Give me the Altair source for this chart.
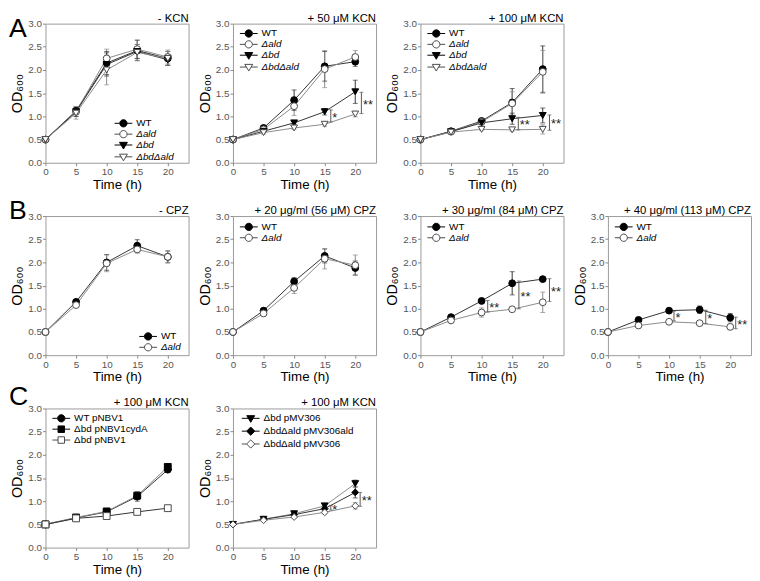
import altair as alt
import pandas as pd

TIME = [0, 5, 10, 15, 20]
X_TICKS = [0, 5, 10, 15, 20]
Y_TICKS = [0.0, 0.5, 1.0, 1.5, 2.0, 2.5, 3.0]

# ---------------- Row A: KCN ----------------
A1_TITLE = "- KCN"
A1_WT = [0.50, 1.12, 2.15, 2.42, 2.25]
A1_WT_ERR = [0.02, 0.08, 0.25, 0.22, 0.15]
A1_ALD = [0.50, 1.10, 2.25, 2.45, 2.28]
A1_ALD_ERR = [0.02, 0.10, 0.20, 0.20, 0.15]
A1_BD = [0.50, 1.10, 2.12, 2.40, 2.22]
A1_BD_ERR = [0.02, 0.10, 0.25, 0.15, 0.12]
A1_BDALD = [0.50, 1.07, 2.00, 2.38, 2.25]
A1_BDALD_ERR = [0.02, 0.13, 0.32, 0.17, 0.15]

A2_TITLE = "+ 50 μM KCN"
A2_WT = [0.50, 0.75, 1.35, 2.08, 2.18]
A2_WT_ERR = [0.02, 0.05, 0.22, 0.32, 0.10]
A2_ALD = [0.50, 0.72, 1.22, 2.02, 2.28]
A2_ALD_ERR = [0.02, 0.04, 0.20, 0.40, 0.14]
A2_BD = [0.50, 0.68, 0.86, 1.10, 1.53]
A2_BD_ERR = [0.02, 0.03, 0.03, 0.07, 0.25]
A2_BDALD = [0.50, 0.65, 0.75, 0.83, 1.05]
A2_BDALD_ERR = [0.02, 0.03, 0.03, 0.04, 0.06]
A2_SIG_X = [16.0, 21.0]
A2_SIG_LOW = [0.88, 1.06]
A2_SIG_HIGH = [1.14, 1.52]
A2_SIG_TEXT = ["*", "**"]

A3_TITLE = "+ 100 μM KCN"
A3_WT = [0.50, 0.68, 0.90, 1.30, 2.02]
A3_WT_ERR = [0.02, 0.02, 0.05, 0.30, 0.50]
A3_ALD = [0.50, 0.67, 0.88, 1.28, 1.96]
A3_ALD_ERR = [0.02, 0.02, 0.04, 0.25, 0.46]
A3_BD = [0.50, 0.67, 0.86, 0.95, 1.02]
A3_BD_ERR = [0.02, 0.02, 0.03, 0.12, 0.16]
A3_BDALD = [0.50, 0.66, 0.72, 0.71, 0.72]
A3_BDALD_ERR = [0.02, 0.02, 0.02, 0.03, 0.10]
A3_SIG_X = [16.0, 21.1]
A3_SIG_LOW = [0.71, 0.70]
A3_SIG_HIGH = [0.98, 1.03]
A3_SIG_TEXT = ["**", "**"]

# ---------------- Row B: CPZ ----------------
B1_TITLE = "- CPZ"
B1_WT = [0.50, 1.15, 2.00, 2.36, 2.12]
B1_WT_ERR = [0.02, 0.05, 0.17, 0.13, 0.13]
B1_ALD = [0.50, 1.08, 1.98, 2.28, 2.12]
B1_ALD_ERR = [0.02, 0.04, 0.18, 0.08, 0.12]

B2_TITLE = "+ 20 μg/ml (56 μM)  CPZ"
B2_WT = [0.50, 0.96, 1.59, 2.14, 1.88]
B2_WT_ERR = [0.02, 0.04, 0.08, 0.15, 0.15]
B2_ALD = [0.50, 0.90, 1.45, 2.08, 1.94]
B2_ALD_ERR = [0.02, 0.03, 0.12, 0.22, 0.22]

B3_TITLE = "+ 30 μg/ml (84 μM) CPZ"
B3_WT = [0.50, 0.82, 1.17, 1.55, 1.64]
B3_WT_ERR = [0.02, 0.03, 0.03, 0.25, 0.03]
B3_ALD = [0.50, 0.75, 0.92, 0.99, 1.14]
B3_ALD_ERR = [0.02, 0.03, 0.10, 0.05, 0.22]
B3_SIG_X = [11.0, 16.1, 21.1]
B3_SIG_LOW = [0.93, 1.00, 1.16]
B3_SIG_HIGH = [1.18, 1.60, 1.65]
B3_SIG_TEXT = ["**", "**", "**"]

B4_TITLE = "+ 40 μg/ml (113 μM) CPZ"
B4_WT = [0.50, 0.76, 0.96, 0.98, 0.81]
B4_WT_ERR = [0.02, 0.03, 0.03, 0.08, 0.09]
B4_ALD = [0.50, 0.64, 0.72, 0.69, 0.61]
B4_ALD_ERR = [0.02, 0.02, 0.03, 0.03, 0.06]
B4_SIG_X = [10.8, 16.0, 20.9]
B4_SIG_LOW = [0.74, 0.68, 0.57]
B4_SIG_HIGH = [0.95, 0.97, 0.82]
B4_SIG_TEXT = ["*", "*", "**"]

# ---------------- Row C: complementation, 100 uM KCN ----------------
C1_TITLE = "+ 100 μM KCN"
C1_WT = [0.50, 0.64, 0.77, 1.10, 1.68]
C1_WT_ERR = [0.02, 0.03, 0.03, 0.10, 0.05]
C1_CYDA = [0.50, 0.65, 0.78, 1.12, 1.74]
C1_CYDA_ERR = [0.02, 0.03, 0.03, 0.08, 0.06]
C1_EMPTY = [0.50, 0.63, 0.68, 0.77, 0.85]
C1_EMPTY_ERR = [0.02, 0.02, 0.02, 0.02, 0.02]

C2_TITLE = "+ 100 μM KCN"
C2_BD = [0.50, 0.61, 0.73, 0.90, 1.38]
C2_BD_ERR = [0.02, 0.02, 0.03, 0.04, 0.08]
C2_ALDC = [0.50, 0.61, 0.71, 0.84, 1.19]
C2_ALDC_ERR = [0.02, 0.02, 0.02, 0.05, 0.12]
C2_EMPTY = [0.50, 0.59, 0.66, 0.76, 0.90]
C2_EMPTY_ERR = [0.02, 0.02, 0.02, 0.03, 0.07]
C2_SIG_X = [16.0, 20.8]
C2_SIG_LOW = [0.81, 0.89]
C2_SIG_HIGH = [0.91, 1.19]
C2_SIG_TEXT = ["*", "**"]

# ---------------- styling ----------------
W, H = 145, 141
FONT = "Liberation Sans"
DARK, LIGHT = "#333333", "#8a8a8a"
OPEN_STROKE = "#4a4a4a"

# legend symbols (line + marker), unit = sqrt(81)/2 = 4.5 px
LEG_CIRCLE = "M-2,0H-0.82M0.82,0H2M0.82,0A0.82,0.82,0,1,1,-0.82,0A0.82,0.82,0,1,1,0.82,0Z"
LEG_TRI = "M-2,0H-0.53M0.53,0H2M-0.89,-0.6H0.89L0,0.9Z"
LEG_SQ = "M-2,0H-0.73M0.73,0H2M-0.73,-0.73H0.73V0.73H-0.73Z"
LEG_DIA = "M-2,0H-0.93M0.93,0H2M0,-0.93L0.93,0L0,0.93L-0.93,0Z"

# name: (shape, legend path, fill, stroke, line colour)
STYLE = {
    "WT": ("circle", LEG_CIRCLE, "black", "black", DARK),
    "Δald": ("circle", LEG_CIRCLE, "white", OPEN_STROKE, LIGHT),
    "Δbd": ("triangle-down", LEG_TRI, "black", "black", DARK),
    "ΔbdΔald": ("triangle-down", LEG_TRI, "white", OPEN_STROKE, LIGHT),
    "WT pNBV1": ("circle", LEG_CIRCLE, "black", "black", DARK),
    "Δbd pNBV1cydA": ("square", LEG_SQ, "black", "black", DARK),
    "Δbd pNBV1": ("square", LEG_SQ, "white", OPEN_STROKE, LIGHT),
    "Δbd pMV306": ("triangle-down", LEG_TRI, "black", "black", DARK),
    "ΔbdΔald pMV306ald": ("diamond", LEG_DIA, "black", "black", DARK),
    "ΔbdΔald pMV306": ("diamond", LEG_DIA, "white", OPEN_STROKE, LIGHT),
}

ITALIC_AB = "datum.label == 'WT' ? 'normal' : 'italic'"
ITALIC_C = "'normal'"

PANELS = [
    dict(title=A1_TITLE, letter="A", letter_y=14, italic=ITALIC_AB, leg=(74, 96),
         series=[("WT", A1_WT, A1_WT_ERR), ("Δald", A1_ALD, A1_ALD_ERR),
                 ("Δbd", A1_BD, A1_BD_ERR), ("ΔbdΔald", A1_BDALD, A1_BDALD_ERR)]),
    dict(title=A2_TITLE, italic=ITALIC_AB, leg=(11, 5),
         series=[("WT", A2_WT, A2_WT_ERR), ("Δald", A2_ALD, A2_ALD_ERR),
                 ("Δbd", A2_BD, A2_BD_ERR), ("ΔbdΔald", A2_BDALD, A2_BDALD_ERR)],
         sig=(A2_SIG_X, A2_SIG_LOW, A2_SIG_HIGH, A2_SIG_TEXT)),
    dict(title=A3_TITLE, italic=ITALIC_AB, leg=(11, 5),
         series=[("WT", A3_WT, A3_WT_ERR), ("Δald", A3_ALD, A3_ALD_ERR),
                 ("Δbd", A3_BD, A3_BD_ERR), ("ΔbdΔald", A3_BDALD, A3_BDALD_ERR)],
         sig=(A3_SIG_X, A3_SIG_LOW, A3_SIG_HIGH, A3_SIG_TEXT)),
    None,
    dict(title=B1_TITLE, letter="B", letter_y=3, italic=ITALIC_AB, leg=(99, 117),
         series=[("WT", B1_WT, B1_WT_ERR), ("Δald", B1_ALD, B1_ALD_ERR)]),
    dict(title=B2_TITLE, italic=ITALIC_AB, leg=(11, 6),
         series=[("WT", B2_WT, B2_WT_ERR), ("Δald", B2_ALD, B2_ALD_ERR)]),
    dict(title=B3_TITLE, italic=ITALIC_AB, leg=(11, 6),
         series=[("WT", B3_WT, B3_WT_ERR), ("Δald", B3_ALD, B3_ALD_ERR)],
         sig=(B3_SIG_X, B3_SIG_LOW, B3_SIG_HIGH, B3_SIG_TEXT)),
    dict(title=B4_TITLE, italic=ITALIC_AB, leg=(11, 6),
         series=[("WT", B4_WT, B4_WT_ERR), ("Δald", B4_ALD, B4_ALD_ERR)],
         sig=(B4_SIG_X, B4_SIG_LOW, B4_SIG_HIGH, B4_SIG_TEXT)),
    dict(title=C1_TITLE, letter="C", letter_y=-4, italic=ITALIC_C, leg=(11, 5),
         series=[("WT pNBV1", C1_WT, C1_WT_ERR), ("Δbd pNBV1cydA", C1_CYDA, C1_CYDA_ERR),
                 ("Δbd pNBV1", C1_EMPTY, C1_EMPTY_ERR)]),
    dict(title=C2_TITLE, italic=ITALIC_C, leg=(13, 5),
         series=[("Δbd pMV306", C2_BD, C2_BD_ERR), ("ΔbdΔald pMV306ald", C2_ALDC, C2_ALDC_ERR),
                 ("ΔbdΔald pMV306", C2_EMPTY, C2_EMPTY_ERR)],
         sig=(C2_SIG_X, C2_SIG_LOW, C2_SIG_HIGH, C2_SIG_TEXT)),
]

XAXIS = alt.Axis(values=X_TICKS, title="Time (h)", format="d", labelFlush=False,
                 titleFontSize=13.5, titlePadding=1)
YAXIS = alt.Axis(values=Y_TICKS, title="OD₆₀₀", format=".1f", labelFlush=False,
                 titleFontSize=14.5, titlePadding=3)


def X(field):
    return alt.X(field, type="quantitative",
                 scale=alt.Scale(domain=[0, 23.4], nice=False, zero=False), axis=XAXIS)


def Y(field):
    return alt.Y(field, type="quantitative",
                 scale=alt.Scale(domain=[0, 3], nice=False), axis=YAXIS)


def make_panel(p):
    if p is None:
        return alt.Chart(pd.DataFrame({"v": [0]})).mark_point(opacity=0).encode(
            x=alt.X("v:Q", axis=None), y=alt.Y("v:Q", axis=None)
        ).properties(width=W, height=H, view=alt.ViewBackground(stroke="transparent"))

    rows = []
    for name, vals, errs in p["series"]:
        for t, v, e in zip(TIME, vals, errs):
            rows.append(dict(series=name, time=t, od=v, lo=v - e, hi=v + e))
    df = pd.DataFrame(rows)
    names = [s[0] for s in p["series"]]

    color = alt.Color("series:N", scale=alt.Scale(domain=names, range=[STYLE[n][4] for n in names]),
                      legend=None)
    base = alt.Chart(df)
    lines = base.mark_line(strokeWidth=1).encode(x=X("time"), y=Y("od"), color=color)
    bars = base.mark_rule(strokeWidth=1).encode(x=X("time"), y=Y("lo"), y2="hi:Q", color=color)
    cap_lo = base.mark_tick(orient="horizontal", size=5, thickness=1).encode(
        x=X("time"), y=Y("lo"), color=color)
    cap_hi = base.mark_tick(orient="horizontal", size=5, thickness=1).encode(
        x=X("time"), y=Y("hi"), color=color)
    pts = base.mark_point(filled=True, opacity=1, fillOpacity=1, size=48, strokeWidth=1).encode(
        x=X("time"), y=Y("od"),
        shape=alt.Shape("series:N", scale=alt.Scale(domain=names, range=[STYLE[n][0] for n in names]),
                        legend=None),
        fill=alt.Fill("series:N", scale=alt.Scale(domain=names, range=[STYLE[n][2] for n in names]),
                      legend=None),
        stroke=alt.Stroke("series:N", scale=alt.Scale(domain=names, range=[STYLE[n][3] for n in names]),
                          legend=None),
    )
    leg = alt.Legend(title=None, orient="none", legendX=p["leg"][0], legendY=p["leg"][1],
                     symbolSize=81, symbolStrokeWidth=1, labelOffset=8, rowPadding=-1,
                     labelFontSize=10, labelFont=FONT, labelColor="black", padding=0,
                     labelFontWeight="normal",
                     labelFontStyle={"expr": p["italic"]}, labelLimit=200)
    legend_layer = base.transform_filter("false").mark_point(
        filled=True, opacity=1, fillOpacity=1, strokeWidth=1).encode(
        shape=alt.Shape("series:N", scale=alt.Scale(domain=names, range=[STYLE[n][1] for n in names]),
                        legend=leg),
        fill=alt.Fill("series:N", scale=alt.Scale(domain=names, range=[STYLE[n][2] for n in names]),
                      legend=leg),
        stroke=alt.Stroke("series:N", scale=alt.Scale(domain=names, range=[STYLE[n][3] for n in names]),
                          legend=leg),
    )
    layers = [lines, bars, cap_lo, cap_hi, pts, legend_layer]

    if p.get("sig"):
        sx, slo, shi, stext = p["sig"]
        sdf = pd.DataFrame({"xb": sx, "y1": slo, "y2": shi, "label": stext})
        sdf["xt"] = sdf["xb"] + 0.25
        sdf["ym"] = (sdf["y1"] + sdf["y2"]) / 2 - 0.04
        sbase = alt.Chart(sdf)
        layers += [
            sbase.mark_rule(color="#555555", strokeWidth=1).encode(x=X("xb"), y=Y("y1"), y2="y2:Q"),
            sbase.mark_tick(orient="horizontal", size=4, thickness=1, color="#555555").encode(
                x=X("xb"), y=Y("y1")),
            sbase.mark_tick(orient="horizontal", size=4, thickness=1, color="#555555").encode(
                x=X("xb"), y=Y("y2")),
            sbase.mark_text(align="left", baseline="middle", fontSize=13, font=FONT,
                            color="#222222").encode(x=X("xt"), y=Y("ym"), text="label:N"),
        ]

    # panel heading, right-aligned just above the frame
    layers.append(
        alt.Chart(pd.DataFrame({"t": [p["title"]]})).mark_text(
            align="right", baseline="alphabetic", fontSize=11.5, font=FONT, color="black"
        ).encode(text="t:N", x=alt.value(W), y=alt.value(-2))
    )

    if p.get("letter"):
        layers.append(
            alt.Chart(pd.DataFrame({"letter": [p["letter"]]})).mark_text(
                align="left", baseline="alphabetic", fontSize=27, font=FONT, color="black"
            ).encode(text="letter:N", x=alt.value(-37), y=alt.value(p["letter_y"]))
        )

    return alt.layer(*layers).resolve_scale(
        shape="independent", fill="independent", stroke="independent"
    ).properties(width=W, height=H)


chart = alt.concat(
    *[make_panel(p) for p in PANELS],
    columns=4, spacing={"row": 54, "column": 45}, bounds="flush",
).properties(padding=0).configure(font=FONT).configure_axis(
    labelFont=FONT, titleFont=FONT, labelFontSize=10, labelColor="#555555",
    titleFontWeight="normal", titleColor="black", tickColor="#888888", tickSize=3,
    labelPadding=1, domain=False, grid=False,
).configure_view(stroke="#9a9a9a", strokeWidth=1)

chart.save("out.html", embed_options={"renderer": "svg", "actions": False})
